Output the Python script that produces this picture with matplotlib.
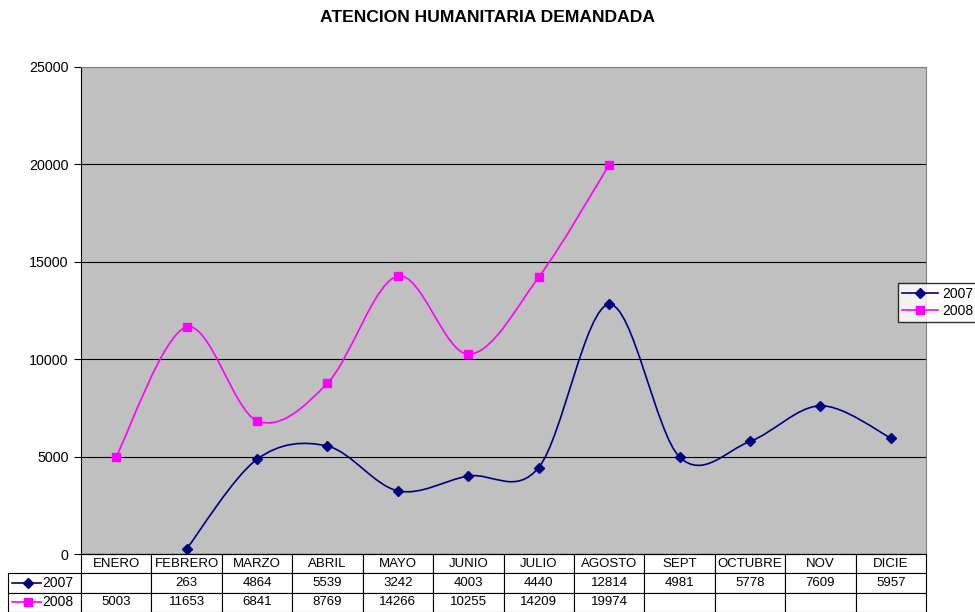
import matplotlib
matplotlib.use('Agg')
import matplotlib.pyplot as plt
from matplotlib.path import Path
from matplotlib.patches import PathPatch
from matplotlib.lines import Line2D

plt.rcParams['font.family'] = ['Liberation Sans', 'DejaVu Sans']

# Data
months = ['ENERO', 'FEBRERO', 'MARZO', 'ABRIL', 'MAYO', 'JUNIO', 'JULIO',
          'AGOSTO', 'SEPT', 'OCTUBRE', 'NOV', 'DICIE']
vals_2007 = [None, 263, 4864, 5539, 3242, 4003, 4440, 12814, 4981, 5778, 7609, 5957]
vals_2008 = [5003, 11653, 6841, 8769, 14266, 10255, 14209, 19974, None, None, None, None]

colors = {'2007': '#000080', '2008': '#FF00FF'}
markers = {'2007': 'D', '2008': 's'}


def smooth_path(xs, ys):
    # Excel-style smoothed line: cubic bezier with Catmull-Rom tangents
    pts = list(zip(xs, ys))
    verts = [pts[0]]
    codes = [Path.MOVETO]
    n = len(pts)
    for i in range(n - 1):
        p0 = pts[i - 1] if i > 0 else pts[i]
        p1 = pts[i]
        p2 = pts[i + 1]
        p3 = pts[i + 2] if i + 2 < n else pts[i + 1]
        c1 = (p1[0] + (p2[0] - p0[0]) / 6, p1[1] + (p2[1] - p0[1]) / 6)
        c2 = (p2[0] - (p3[0] - p1[0]) / 6, p2[1] - (p3[1] - p1[1]) / 6)
        verts += [c1, c2, p2]
        codes += [Path.CURVE4] * 3
    return Path(verts, codes)


fig = plt.figure(figsize=(9.75, 6.12), dpi=100)
ax = fig.add_axes([81 / 975, 1 - 554 / 612, 845 / 975, 487 / 612])
ax.set_facecolor('#C0C0C0')

series = {'2007': vals_2007, '2008': vals_2008}
for name, vals in series.items():
    xs = [i for i, v in enumerate(vals) if v is not None]
    ys = [v for v in vals if v is not None]
    ax.add_patch(PathPatch(smooth_path(xs, ys), facecolor='none',
                           edgecolor=colors[name], lw=1.2, zorder=3))
    ax.plot(xs, ys, ls='none', marker=markers[name], color=colors[name],
            markersize=5.5, zorder=4, label=name)

ax.set_xlim(-0.5, 11.5)
ax.set_ylim(0, 25000)
ax.set_yticks(range(0, 25001, 5000))
ax.yaxis.grid(True, color='black', lw=0.8)
ax.set_axisbelow(True)
ax.set_xticks([])
ax.tick_params(axis='y', direction='out', length=5, labelsize=10.3, pad=4)
for s in ['top', 'right']:
    ax.spines[s].set_color('#808080')
ax.spines['left'].set_color('black')
ax.spines['bottom'].set_color('black')

fig.text(0.5, 1 - 18 / 612, 'ATENCION HUMANITARIA DEMANDADA', ha='center',
         va='center', fontsize=12.6, fontweight='bold')

# Legend
handles = [Line2D([], [], color=colors[k], marker=markers[k], markersize=5.5, lw=1.2)
           for k in series]
fig.legend(handles, list(series.keys()), loc='upper left',
           bbox_to_anchor=(898 / 975, 1 - 283 / 612), frameon=True,
           fancybox=False, edgecolor='black', fontsize=10, handlelength=2.6,
           borderpad=0.3, labelspacing=0.2, handletextpad=0.3, borderaxespad=0)

# Data table
def fmt(v):
    return '' if v is None else str(v)

cell_text = [['2007'] + [fmt(v) for v in vals_2007],
             ['2008'] + [fmt(v) for v in vals_2008]]
col_w = [73 / 918] + [845 / 12 / 918] * 12
tbl = ax.table(cellText=cell_text, colLabels=[''] + months, colWidths=col_w,
               cellLoc='center', bbox=[-73 / 845, -58 / 487, 918 / 845, 58 / 487])
tbl.auto_set_font_size(False)
tbl.set_fontsize(9.5)
for (r, c), cell in tbl.get_celld().items():
    cell.set_linewidth(0.8)
    cell.set_facecolor('white')
    if r == 0 and c == 0:
        cell.set_edgecolor('none')
        cell.set_facecolor('none')
    if c == 0 and r > 0:
        cell.get_text().set_ha('right')
        cell._loc = 'right'
        cell.PAD = 0.11
        cell.get_text().set_fontsize(10)

# legend keys inside the table row labels
for k, yy in zip(series.keys(), [583, 602]):
    fig.add_artist(Line2D([12 / 975, 41 / 975], [1 - yy / 612] * 2, color=colors[k], lw=1.2))
    fig.add_artist(Line2D([28 / 975], [1 - yy / 612], color=colors[k], marker=markers[k],
                          markersize=5.5, ls='none'))

fig.savefig('out.png', dpi=100)
